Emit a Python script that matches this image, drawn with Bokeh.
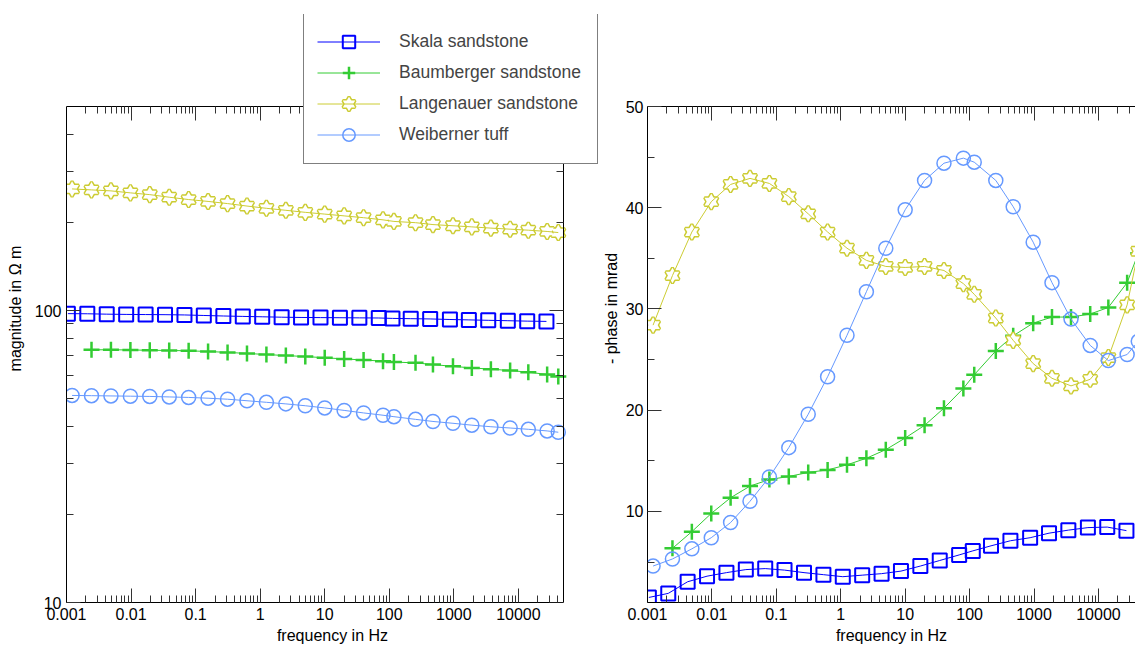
from bokeh.plotting import figure
from bokeh.models import LogAxis, FixedTicker, Legend, LegendItem
from bokeh.layouts import row
from bokeh.embed import file_html
from bokeh.resources import INLINE

FONT = "Liberation Sans"

# ---------------- data ----------------
# frequency sets (Hz)
FREQ_SKALA = [0.00105, 0.0021, 0.0042, 0.0084, 0.0168, 0.0336, 0.0672, 0.134, 0.269,
              0.538, 1.075, 2.15, 4.3, 8.6, 17.2, 34.4, 68.8,
              112, 215, 430, 870, 1710, 3410, 6860, 13700, 27200]
FREQ_WL = [0.00122, 0.00244, 0.00488, 0.00977, 0.0195, 0.039, 0.078, 0.156, 0.3125,
           0.625, 1.25, 2.5, 5, 10, 20, 40, 80,
           118, 255, 475, 970, 1900, 3750, 7450, 14250, 27900, 41500]
FREQ_BAUM = FREQ_WL[1:]

# magnitude in Ohm m
SKALA_MAG = [97.6, 97.5, 97.2, 97.0, 96.9, 96.8, 96.6, 96.2, 95.8, 95.5, 95.2, 94.9, 94.7,
             94.6, 94.5, 94.4, 94.3, 94.0, 93.8, 93.6, 93.2, 92.9, 92.6, 92.3, 92.0, 91.8]
BAUM_MAG = [73.4, 73.4, 73.3, 73.1, 73.0, 72.8, 72.4, 71.9, 71.3, 70.7, 70.1, 69.6, 68.9,
            68.3, 67.7, 67.1, 66.6, 66.2, 65.3, 64.4, 63.6, 63.0, 62.3, 61.5, 60.4, 59.5]
LANG_MAG = [261, 259, 257, 253, 249.5, 244.5, 240, 236.5, 232.5, 228, 224, 220.5, 217,
            214, 211, 208, 204.5, 202, 200, 197, 195.2, 193.5, 191.6, 190, 188.5, 186.6, 185]
WEIB_MAG = [51.2, 51.1, 51.0, 50.9, 50.8, 50.6, 50.4, 50.1, 49.7, 49.1, 48.5, 47.9, 47.2,
            46.4, 45.5, 44.6, 43.8, 43.3, 42.4, 41.7, 41.1, 40.5, 40.0, 39.6, 39.2, 38.7, 38.3]

# - phase in mrad
SKALA_PHA = [1.5, 1.9, 3.05, 3.6, 3.95, 4.25, 4.35, 4.2, 3.95, 3.75, 3.55, 3.7, 3.85,
             4.1, 4.6, 5.15, 5.7, 6.1, 6.6, 7.1, 7.4, 7.85, 8.15, 8.4, 8.45, 8.1]
BAUM_PHA = [6.35, 8.0, 9.8, 11.35, 12.5, 13.15, 13.45, 13.85, 14.1, 14.6, 15.25, 16.1, 17.25,
            18.5, 20.2, 22.15, 23.5, 25.85, 27.35, 28.6, 29.2, 29.2, 29.5, 30.15, 32.6, 35.5]
LANG_PHA = [28.4, 33.3, 37.6, 40.6, 42.3, 42.9, 42.4, 41.1, 39.4, 37.6, 36.0, 34.8, 34.2,
            34.1, 34.2, 33.8, 32.5, 31.45, 29.1, 26.9, 24.6, 23.15, 22.4, 23.05, 25.2, 30.4, 35.7]
WEIB_PHA = [4.6, 5.3, 6.3, 7.4, 8.9, 11.0, 13.4, 16.3, 19.6, 23.3, 27.4, 31.7, 36.0,
            39.8, 42.7, 44.4, 44.9, 44.5, 42.7, 40.1, 36.6, 32.6, 29.0, 26.4, 24.9, 25.5, 26.8]

NAMES = ["Skala sandstone", "Baumberger sandstone", "Langenauer sandstone", "Weiberner tuff"]
COLORS = ["#0000ff", "#33cc33", "#cccc33", "#6699ff"]

# axis limits and ticks
F_MIN, F_MAX = 0.001, 50000
MAG_MIN, MAG_MAX = 10, 500
PHA_MIN, PHA_MAX = 1, 50
X_MAJOR = [0.001, 0.01, 0.1, 1, 10, 100, 1000, 10000]
X_LABELS = ["0.001", "0.01", "0.1", "1", "10", "100", "1000", "10000"]
X_MINOR = [m * d for d in X_MAJOR for m in range(2, 10) if m * d < F_MAX]
MAG_MAJOR = [10, 100]
MAG_LABELS = ["10", "100"]
MAG_MINOR = [20, 30, 40, 50, 60, 70, 80, 90, 200, 300, 400]
PHA_MAJOR = [10, 20, 30, 40, 50]
PHA_MINOR = [5, 15, 25, 35, 45]


def style_axis(ax, show_labels=True):
    ax.axis_line_color = "black"
    ax.axis_line_width = 1
    ax.major_tick_in = 14
    ax.major_tick_out = 0
    ax.minor_tick_in = 7
    ax.minor_tick_out = 0
    ax.major_tick_line_color = "#333333"
    ax.minor_tick_line_color = "#333333"
    ax.major_label_text_font = FONT
    ax.major_label_text_color = "black"
    if show_labels:
        ax.major_label_text_font_size = "16px"
        ax.major_label_standoff = 5
    else:
        ax.major_label_text_font_size = "1px"
        ax.major_label_text_alpha = 0.0
        ax.major_label_standoff = 0
    ax.axis_label_text_font = FONT
    ax.axis_label_text_font_size = "16px"
    ax.axis_label_text_font_style = "normal"
    ax.axis_label_text_color = "black"


def x_ticker():
    return FixedTicker(ticks=X_MAJOR, minor_ticks=X_MINOR)


def draw_series(p, freqs, vals, idx):
    c = COLORS[idx]
    rs = []
    if idx == 0:
        rs.append(p.line(freqs, vals, line_color=c, line_width=1))
        rs.append(p.scatter(freqs, vals, marker="square", size=14, line_color=c,
                            line_width=2, fill_color=None))
    elif idx == 1:
        rs.append(p.line(freqs, vals, line_color=c, line_width=1))
        rs.append(p.scatter(freqs, vals, marker="cross", size=16, line_color=c,
                            line_width=2.5))
    elif idx == 2:
        for mk in ("triangle", "inverted_triangle"):
            rs.append(p.scatter(freqs, vals, marker=mk, size=13.5, line_color=c,
                                line_width=3, fill_color=None))
        for mk in ("triangle", "inverted_triangle"):
            rs.append(p.scatter(freqs, vals, marker=mk, size=13.5, line_color=None,
                                fill_color="white"))
        rs.append(p.line(freqs, vals, line_color=c, line_width=1))
    else:
        rs.append(p.line(freqs, vals, line_color=c, line_width=1))
        rs.append(p.scatter(freqs, vals, marker="circle", size=14, line_color=c,
                            line_width=1.5, fill_color=None))
    return rs


# Both frames are enlarged upward (and the left one to the right) so that the legend
# box, which overlaps the left plot's upper border, stays inside a frame; the visible
# plot boxes are drawn by axes fixed at the data limits.

# ---------------- left: magnitude ----------------
p1 = figure(width=599, height=650, x_axis_type="log", y_axis_type="log",
            x_range=(F_MIN, 174200), y_range=(MAG_MIN, 1033),
            output_backend="svg", toolbar_location=None,
            min_border_left=66, min_border_right=1,
            min_border_top=14, min_border_bottom=48)
p1.grid.visible = False
p1.outline_line_color = None
p1.border_fill_color = "white"

xa = p1.xaxis[0]
xa.ticker = x_ticker()
xa.major_label_overrides = dict(zip(X_MAJOR, X_LABELS))
xa.axis_label = "frequency in Hz"
xa.bounds = (F_MIN, F_MAX)
style_axis(xa)
xa.axis_label_standoff = 4

ya = p1.yaxis[0]
ya.ticker = FixedTicker(ticks=MAG_MAJOR, minor_ticks=MAG_MINOR)
ya.major_label_overrides = dict(zip(MAG_MAJOR, MAG_LABELS))
ya.axis_label = "magnitude in \u03a9 m"
ya.bounds = (MAG_MIN, MAG_MAX)
style_axis(ya)
ya.axis_label_standoff = 8

top1 = LogAxis(ticker=x_ticker(), fixed_location=MAG_MAX, bounds=(F_MIN, F_MAX))
style_axis(top1, show_labels=False)
p1.add_layout(top1, "above")
right1 = LogAxis(ticker=FixedTicker(ticks=MAG_MAJOR, minor_ticks=MAG_MINOR),
                 fixed_location=F_MAX, bounds=(MAG_MIN, MAG_MAX))
style_axis(right1, show_labels=False)
p1.add_layout(right1, "right")

mag_sets = [(FREQ_SKALA, SKALA_MAG), (FREQ_BAUM, BAUM_MAG), (FREQ_WL, LANG_MAG), (FREQ_WL, WEIB_MAG)]
items = []
for i, (f, v) in enumerate(mag_sets):
    rs = draw_series(p1, f, v, i)
    items.append(LegendItem(label=NAMES[i], renderers=rs))

legend = Legend(items=items, location=(237, 438),
                label_text_font=FONT, label_text_font_size="17.5px",
                glyph_width=63, glyph_height=31, spacing=0, padding=13,
                label_standoff=19, label_width=185, margin=0,
                border_line_color="black", border_line_width=1,
                background_fill_color="white", background_fill_alpha=1.0)
p1.add_layout(legend)

# ---------------- right: phase ----------------
p2 = figure(width=536, height=650, x_axis_type="log",
            x_range=(F_MIN, 37600), y_range=(PHA_MIN, 59.09),
            output_backend="svg", toolbar_location=None,
            min_border_left=47, min_border_right=0,
            min_border_top=14, min_border_bottom=48)
p2.grid.visible = False
p2.outline_line_color = None
p2.border_fill_color = "white"

xb = p2.xaxis[0]
xb.ticker = x_ticker()
xb.major_label_overrides = dict(zip(X_MAJOR, X_LABELS))
xb.axis_label = "frequency in Hz"
style_axis(xb)
xb.axis_label_standoff = 4

yb = p2.yaxis[0]
yb.ticker = FixedTicker(ticks=PHA_MAJOR, minor_ticks=PHA_MINOR)
yb.axis_label = "- phase in mrad"
yb.bounds = (PHA_MIN, PHA_MAX)
style_axis(yb)
yb.major_label_standoff = 4
yb.axis_label_standoff = 3

top2 = LogAxis(ticker=x_ticker(), fixed_location=PHA_MAX)
style_axis(top2, show_labels=False)
p2.add_layout(top2, "above")

pha_sets = [(FREQ_SKALA, SKALA_PHA), (FREQ_BAUM, BAUM_PHA), (FREQ_WL, LANG_PHA), (FREQ_WL, WEIB_PHA)]
for i, (f, v) in enumerate(pha_sets):
    draw_series(p2, f, v, i)

layout = row(p1, p2)
open("out.html", "w").write(file_html(layout, INLINE))
